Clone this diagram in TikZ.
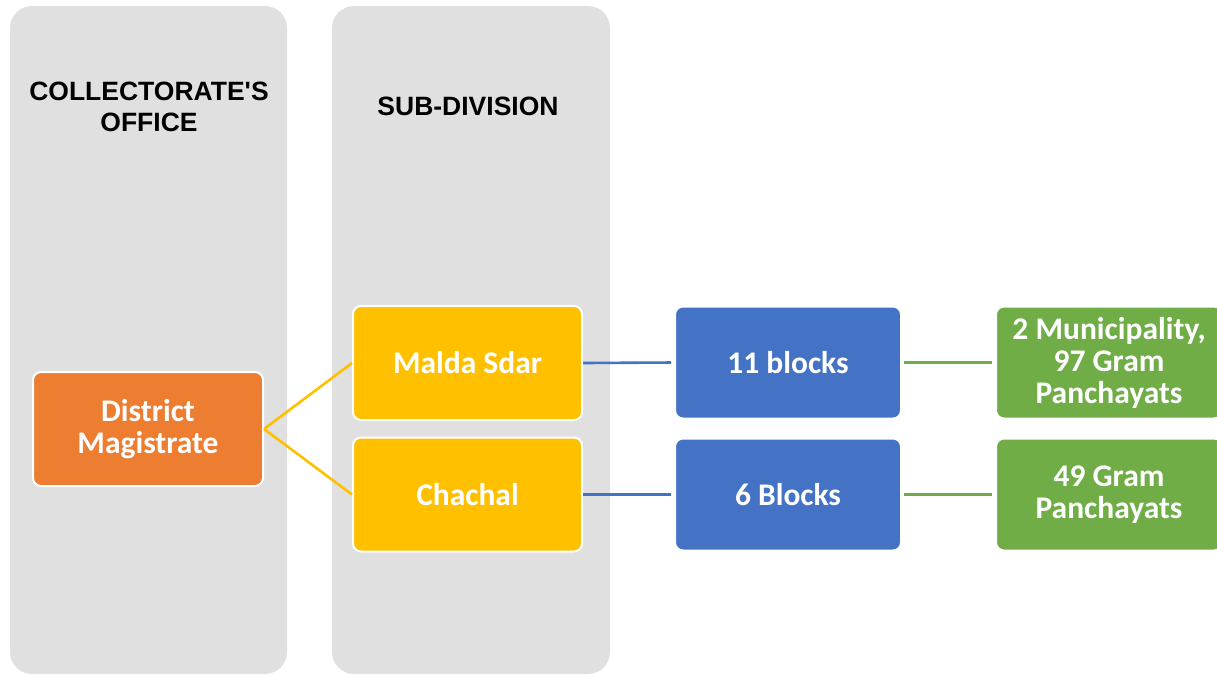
\documentclass[tikz,border=0pt]{standalone}
\usepackage{fontspec}
\newfontfamily\headfont{Liberation Sans}[BoldFont={* Bold}]
\newfontfamily\boxfont{Carlito}
\definecolor{colgray}{HTML}{E0E0E0}
\definecolor{dmorange}{HTML}{ED7D31}
\definecolor{subyellow}{HTML}{FFC000}
\definecolor{blkblue}{HTML}{4472C4}
\definecolor{gpgreen}{HTML}{70AD47}
\begin{document}
\begin{tikzpicture}[x=1pt,y=-1pt,
  column/.style={fill=colgray,rounded corners=22pt},
  header/.style={font=\headfont\bfseries\fontsize{26.5}{31}\selectfont,align=center,anchor=base,inner sep=0pt},
  boxnode/.style={rounded corners=8pt,draw=white,line width=2pt,text=white,align=center,inner sep=0pt,
    font=\boxfont\bfseries\fontsize{31.5}{32}\selectfont},
  dmbox/.style={boxnode,fill=dmorange,minimum width=230pt,minimum height=114pt},
  subbox/.style={boxnode,fill=subyellow,minimum width=229pt,minimum height=114pt},
  blkbox/.style={boxnode,fill=blkblue,minimum width=226pt,minimum height=112pt},
  gpbox/.style={boxnode,fill=gpgreen,minimum width=226pt,minimum height=112pt},
  ylink/.style={draw=subyellow,line width=2.6pt},
  blink/.style={draw=blkblue,line width=2.6pt,shorten >=3pt},
  glink/.style={draw=gpgreen,line width=2.6pt,shorten >=3pt,shorten <=2pt}]
\useasboundingbox (0,0) rectangle (1217,675);
\fill[column] (10,6) rectangle (287,674);
\fill[column] (332,6) rectangle (610,674);
\node[header] (h1) at (149,131) {COLLECTORATE'S\\OFFICE};
\node[header] (h2) at (468,115) {SUB-DIVISION};
\node[dmbox] (dm) at (148,429) {District\\Magistrate};
\node[subbox] (malda) at (467.5,363) {Malda Sdar};
\node[subbox] (chachal) at (467.5,494.5) {Chachal};
\node[blkbox] (b11) at (788,362.5) {11 blocks};
\node[blkbox] (b6) at (788,494.5) {6 Blocks};
\node[gpbox] (g1) at (1109,362.5) {2 Municipality,\\97 Gram\\Panchayats};
\node[gpbox] (g2) at (1109,494.5) {49 Gram\\Panchayats};
\draw[ylink] (dm.east) -- (malda.west);
\draw[ylink] (dm.east) -- (chachal.west);
\draw[blink] (malda.east) -- (b11.west);
\draw[blink] (chachal.east) -- (b6.west);
\draw[glink] (b11.east) -- (g1.west);
\draw[glink] (b6.east) -- (g2.west);
\end{tikzpicture}
\end{document}
